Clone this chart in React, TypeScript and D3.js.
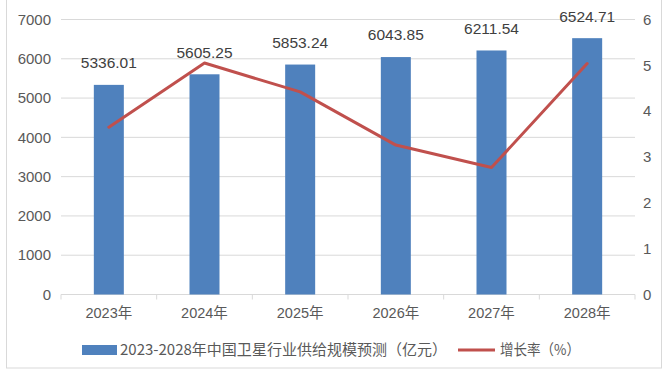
import React from "react";
import * as d3 from "d3";

const years = ["2023年", "2024年", "2025年", "2026年", "2027年", "2028年"];
const supply = [5336.01, 5605.25, 5853.24, 6043.85, 6211.54, 6524.71];
const growth = [3.65, 5.05, 4.42, 3.26, 2.77, 5.04];
const leftTicks = [0, 1000, 2000, 3000, 4000, 5000, 6000, 7000];
const rightTicks = [0, 1, 2, 3, 4, 5, 6];
const barLegend = "2023-2028年中国卫星行业供给规模预测（亿元）";
const lineLegend = "增长率（%）";

const W = 667;
const H = 377;
const left = 61;
const right = 635;
const top = 19.5;
const bottom = 294.5;
const FONT = "'Liberation Sans', 'Noto Sans CJK SC', sans-serif";
const CJK = "'Noto Sans CJK SC', sans-serif";
const BLUE = "#4F81BD";
const RED = "#C0504D";
const GRAY = "#595959";

export default function App() {
  const x = d3.scaleBand<string>().domain(years).range([left, right]).paddingInner(0).paddingOuter(0);
  const yL = d3.scaleLinear().domain([0, 7000]).range([bottom, top]);
  const yR = d3.scaleLinear().domain([0, 6]).range([bottom, top]);
  const barW = 30;
  const cx = (d: string) => (x(d) as number) + x.bandwidth() / 2;
  const line = d3
    .line<number>()
    .x((_, i) => cx(years[i]))
    .y((d) => yR(d));
  const bounds = [...years.map((d) => x(d) as number), right];

  return (
    <svg width={W} height={H} style={{ position: "absolute", left: 0, top: 0, background: "#fff" }}>
      <rect x={6.5} y={-1} width={655} height={369} fill="#fff" stroke="#D9D9D9" />
      {leftTicks.map((t) => (
        <g key={"g" + t}>
          <line x1={left} x2={right} y1={yL(t)} y2={yL(t)} stroke="#D9D9D9" strokeWidth={1} />
          <text x={51} y={yL(t)} dy="0.35em" textAnchor="end" fontFamily={FONT} fontSize={15} fill={GRAY}>
            {t}
          </text>
        </g>
      ))}
      {rightTicks.map((t) => (
        <text key={"r" + t} x={643} y={yR(t)} dy="0.35em" textAnchor="start" fontFamily={FONT} fontSize={15} fill={GRAY}>
          {t}
        </text>
      ))}
      {bounds.map((b, i) => (
        <line key={"t" + i} x1={b} x2={b} y1={bottom} y2={bottom + 5} stroke="#D9D9D9" />
      ))}
      {years.map((d, i) => (
        <g key={d}>
          <rect x={cx(d) - barW / 2} y={yL(supply[i])} width={barW} height={bottom - yL(supply[i])} fill={BLUE} />
          <text x={cx(d)} y={yL(supply[i]) - 22} dy="0.35em" textAnchor="middle" fontFamily={FONT} fontSize={15.5} fill="#404040">
            {supply[i].toFixed(2)}
          </text>
          <text x={cx(d)} y={313} dy="0.35em" textAnchor="middle" fontFamily={FONT} fontSize={14.5} fill={GRAY}>
            {d}
          </text>
        </g>
      ))}
      <path d={line(growth) as string} fill="none" stroke={RED} strokeWidth={3} strokeLinejoin="round" strokeLinecap="round" />
      <g>
        <rect x={82} y={345} width={35} height={10} fill={BLUE} />
        <text x={120} y={350} dy="0.35em" fontFamily={CJK} fontSize={15} fill={GRAY} textLength={327} lengthAdjust="spacingAndGlyphs">
          {barLegend}
        </text>
        <line x1={458} x2={495} y1={350} y2={350} stroke={RED} strokeWidth={3} />
        <text x={500} y={350} dy="0.35em" fontFamily={CJK} fontSize={15} fill={GRAY} textLength={80} lengthAdjust="spacingAndGlyphs">
          {lineLegend}
        </text>
      </g>
    </svg>
  );
}
